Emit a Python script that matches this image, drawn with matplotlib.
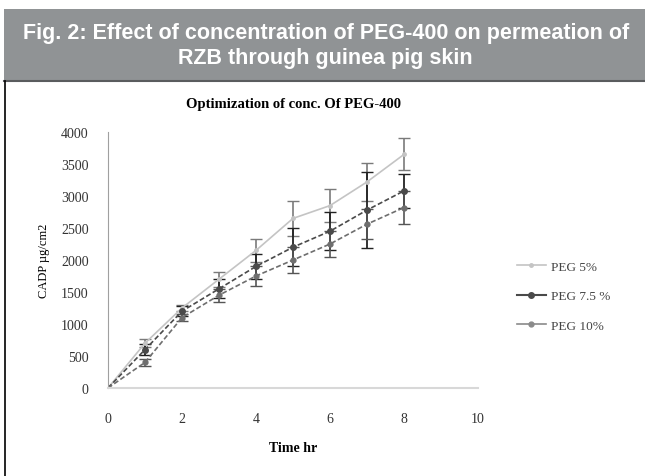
import matplotlib.pyplot as plt
from matplotlib.patches import Rectangle
from matplotlib.lines import Line2D

# Data
time_hr = [0, 1, 2, 3, 4, 5, 6, 7, 8]
peg_5 = [0, 700, 1250, 1700, 2150, 2650, 2850, 3220, 3650]
peg_75 = [0, 600, 1200, 1550, 1900, 2200, 2450, 2780, 3080]
peg_10 = [0, 400, 1100, 1450, 1750, 2000, 2250, 2560, 2820]
err_5 = [0, 60, 50, 120, 180, 270, 260, 300, 250]
err_75 = [0, 80, 80, 150, 200, 300, 300, 600, 260]
err_10 = [0, 60, 60, 100, 150, 200, 200, 230, 260]
series_names = ["PEG 5%", "PEG 7.5 %", "PEG 10%"]
header = "Fig. 2: Effect of concentration of PEG-400 on permeation of\nRZB through guinea pig skin"

W, H = 645, 477
fig = plt.figure(figsize=(W / 100, H / 100), dpi=100)

# header box
fig.patches.append(Rectangle((4 / W, 1 - 82 / H), 1 - 4 / W, 72 / H, transform=fig.transFigure,
                             facecolor="#909395", edgecolor="none"))
fig.lines.append(Line2D([4 / W, 1], [1 - 82 / H, 1 - 82 / H], transform=fig.transFigure,
                        color="#5a5c5e", lw=1.5))
fig.lines.append(Line2D([4.5 / W, 4.5 / W], [0, 1 - 82 / H], transform=fig.transFigure,
                        color="black", lw=1.2))
fig.text(0.505, 1 - 46 / H, header, ha="center", va="center", color="white",
         fontsize=15.5, fontweight="bold", family="Liberation Sans", linespacing=1.2)

ax = fig.add_axes([108 / W, 1 - 389 / H, 370 / W, 256 / H])
serif = "Liberation Serif"

ax.errorbar(time_hr, peg_5, yerr=err_5, color="#c4c4c4", lw=1.2, marker="o", ms=2.5,
            capsize=4, ecolor="#7a7a7a", elinewidth=1.2, label=series_names[0])
ax.errorbar(time_hr, peg_75, yerr=err_75, color="#4a4a4a", lw=1.2, ls=(0, (3, 1.5)),
            marker="o", ms=4, capsize=4, ecolor="#222222", elinewidth=1.3, label=series_names[1])
ax.errorbar(time_hr, peg_10, yerr=err_10, color="#6e6e6e", lw=1.2, ls=(0, (3, 1.5)),
            marker="o", ms=3.5, capsize=4, ecolor="#555555", elinewidth=1.2, label=series_names[2])

ax.set_xlim(0, 10)
ax.set_ylim(0, 4000)
ax.set_xticks(range(0, 11, 2))
ax.set_yticks(range(0, 4001, 500))
for s in ["top", "right"]:
    ax.spines[s].set_visible(False)
ax.spines["left"].set_color("#a0a0a0")
ax.spines["bottom"].set_color("#d8d8d8")
ax.spines["bottom"].set_linewidth(1.5)
ax.tick_params(length=0, labelsize=10, labelcolor="#333333")
ax.tick_params(axis="x", pad=17)
ax.tick_params(axis="y", pad=14)
for lab in ax.get_xticklabels() + ax.get_yticklabels():
    lab.set_family(serif)

ax.set_title("Optimization of conc. Of PEG-400", family=serif, fontsize=10.5,
             fontweight="bold", pad=18)
ax.set_xlabel("Time hr", family=serif, fontsize=10, fontweight="bold", labelpad=12)
ax.set_ylabel("CADP µg/cm2", family=serif, fontsize=9, labelpad=8)

handles = [Line2D([], [], color="#c4c4c4", lw=1.2, marker="o", ms=2.5),
           Line2D([], [], color="#4a4a4a", lw=1.5, marker="o", ms=4),
           Line2D([], [], color="#8a8a8a", lw=1.2, marker="o", ms=3.5)]
fig.legend(handles, series_names, loc="center left", bbox_to_anchor=(505 / W, 1 - 297 / H),
           frameon=False, prop={"family": serif, "size": 9.5}, labelspacing=1.3,
           handlelength=2.2, handletextpad=0.4, labelcolor="#444444")

fig.savefig("out.png", dpi=100)
